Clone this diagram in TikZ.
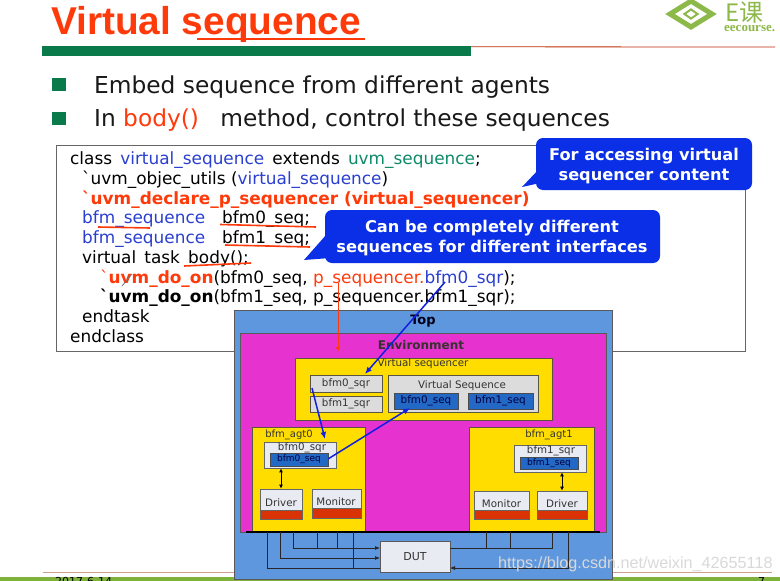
\documentclass[tikz,border=0pt]{standalone}
\usepackage{fontspec}
\usetikzlibrary{arrows.meta,shapes.geometric}
\setmainfont{DejaVu Sans}
\newfontfamily\codef{DejaVu Sans}
\newfontfamily\titlef{Liberation Sans}
\newfontfamily\cjkf{Noto Sans CJK SC}
\newfontfamily\serf{Liberation Serif}
\definecolor{ttl}{HTML}{FF3A0A}
\definecolor{bargreen}{HTML}{0B7A4B}
\definecolor{calloutb}{HTML}{0A2FE6}
\definecolor{kwblue}{HTML}{2A3FD0}
\definecolor{kwgreen}{HTML}{0F8A68}
\definecolor{topblue}{HTML}{5F97DF}
\definecolor{envmag}{HTML}{E633CF}
\definecolor{yel}{HTML}{FFDD00}
\definecolor{lgray}{HTML}{DCDCDC}
\definecolor{pale}{HTML}{E8ECF2}
\definecolor{seqblue}{HTML}{2368C4}
\definecolor{stripred}{HTML}{D93205}
\definecolor{logog}{HTML}{8DB84A}
\definecolor{arrblue}{HTML}{1020E0}
\definecolor{footg}{HTML}{7FB23A}
\definecolor{footr}{HTML}{CFA090}
\newcommand{\bq}{\symbol{96}}
\newcommand{\us}{\_}
\newcommand{\bx}[7]{\node[#6,inner sep=0pt,minimum width={#4-#2},minimum height={#5-#3}] (#1) at ({(#2+#4)/2},{(#3+#5)/2}) {#7};}
\tikzset{
  x=1pt,y=-1pt,
  outl/.style={draw=black!75!yellow,line width=0.7pt},
  lbl/.style={font=\codef\fontsize{10.3}{11}\selectfont,text=black!80},
  code/.style={anchor=base west,inner sep=0pt,font=\codef\fontsize{16.9}{18}\selectfont,text=black},
  bul/.style={anchor=base west,inner sep=0pt,font=\fontsize{23.3}{26}\selectfont,text=black!90},
  callout/.style={fill=calloutb,draw=none},
  ctext/.style={align=center,text=white,font=\codef\bfseries\fontsize{16.2}{20}\selectfont,inner sep=0pt},
  rul/.style={draw=ttl,line width=1.6pt},
  wire/.style={draw=black!85,line width=0.7pt},
  wirea/.style={wire,-{Latex[length=5pt,width=4pt]}},
  bluearr/.style={draw=arrblue,line width=1.5pt,-{Latex[length=7pt,width=6pt]}},
}
\begin{document}
\begin{tikzpicture}
\useasboundingbox (0,0) rectangle (780,581);
\clip (0,0) rectangle (780,581);
\fill[white] (0,0) rectangle (780,581);
% footer
\bx{footband}{-1}{577}{781}{582}{fill=footg}{}
\node[anchor=base west,inner sep=0pt,font=\codef\fontsize{11}{12}\selectfont,text=black] (date) at (55,585) {2017-6-14};
\node[anchor=base west,inner sep=0pt,font=\codef\fontsize{11}{12}\selectfont,text=black] (pageno) at (758,585) {7};
\coordinate (fl1) at (43,572); \coordinate (fl2) at (772,572);
\draw[footr,line width=1pt] (fl1) -- (fl2);
% header
\node[anchor=base west,inner sep=0pt,text=ttl,font=\titlef\bfseries\fontsize{38.8}{42}\selectfont] (title) at (51,34) {Virtual sequence};
\coordinate (ula) at (197,39); \coordinate (ulb) at (365,39);
\draw[rul] (ula) -- (ulb);
\bx{bar}{42}{46}{471}{55.5}{fill=bargreen}{}
\coordinate (rl) at (775,47);
\draw[draw=ttl!75!black,line width=0.8pt] (bar.north east) ++(0,1) -- (rl);
% logo
\node[diamond,draw=logog,line width=5pt,minimum width=44pt,minimum height=28pt,inner sep=0pt] at (691,14) (logo) {};
\node[diamond,draw=logog,line width=2pt,minimum width=14pt,minimum height=10pt,inner sep=0pt] at (691,14) (logoi) {};
\node[anchor=base west,inner sep=0pt,text=logog,font=\cjkf\fontsize{24}{26}\selectfont] (lt) at (725,21) {E课};
\node[anchor=base west,inner sep=0pt,text=logog,font=\serf\bfseries\fontsize{13}{13}\selectfont] (lu) at (724,31) {eecourse.};
% bullets
\bx{b1}{52}{78}{66}{91}{fill=bargreen}{}
\bx{b2}{52}{112}{66}{125}{fill=bargreen}{}
\node[bul] (bt1) at (94,93) {Embed sequence from different agents};
\node[bul] (bt2) at (94,126) {In \textcolor{ttl}{body()}\hspace{14pt} method, control these sequences};
% code
\bx{codebox}{56}{145}{745}{351}{draw=black!60,line width=1pt,fill=white}{}
\node[code] (c1) at (70,164) {class\, \textcolor{kwblue}{virtual\us sequence}\, extends\, \textcolor{kwgreen}{uvm\us sequence};};
\node[code] (c2) at (82,184) {\bq uvm\us objec\us utils (\textcolor{kwblue}{virtual\us sequence})};
\node[code,text=ttl,font=\codef\bfseries\fontsize{16.9}{18}\selectfont] (c3) at (82,204) {\bq uvm\us declare\us p\us sequencer (virtual\us sequencer)};
\node[code] (c4) at (82,223) {\textcolor{kwblue}{bfm\us sequence}\quad bfm0\us seq;};
\node[code] (c5) at (82,243) {\textcolor{kwblue}{bfm\us sequence}\quad bfm1\us seq;};
\node[code] (c6) at (82,263) {virtual\, task\, body();};
\node[code] (c7) at (100,283) {\textcolor{ttl}{\bq\textbf{uvm\us do\us on}}(bfm0\us seq, \textcolor{ttl}{p\us sequencer.}\textcolor{kwblue}{bfm0\us sqr});};
\node[code] (c8) at (100,302) {\textbf{\bq uvm\us do\us on}(bfm1\us seq, p\us sequencer.bfm1\us sqr);};
\node[code] (c9) at (82,322) {endtask};
\node[code] (c10) at (70,342) {endclass};
% underlines
\coordinate (u1a) at (98,227); \coordinate (u1b) at (150,228);
\coordinate (u2a) at (220,224.5); \coordinate (u2b) at (316,227);
\coordinate (u3a) at (225,245); \coordinate (u3b) at (310,247);
\coordinate (u4a) at (184,266); \coordinate (u4b) at (251,263);
\draw[rul] (u1a) -- (u1b);
\draw[rul] (u2a) -- (u2b);
\draw[rul] (u3a) -- (u3b);
\draw[rul] (u4a) -- (u4b);
\coordinate (pa) at (132,274); \coordinate (pb) at (122,286);
\draw[black!55,line width=0.8pt] (pa) -- (pb);
% callouts
\fill[callout] (540,168) -- (522,187) -- (540,183) -- cycle;
\fill[callout,rounded corners=7pt] (536,138) rectangle (752,190);
\node[ctext] (ca) at (644,166.5) {For accessing virtual\\sequencer content};
\fill[callout] (326,235) -- (304,260) -- (330,258) -- cycle;
\fill[callout,rounded corners=7pt] (325,210) rectangle (660,263);
\node[ctext] (cb) at (492,238.5) {Can be completely different\\sequences for different interfaces};
% diagram
\bx{top}{234.5}{310}{612}{579}{fill=topblue,draw=black!65,line width=0.8pt}{}
\bx{env}{240}{333}{606}{532}{fill=envmag,draw=black!65,line width=0.8pt}{}
\node[inner sep=0pt,font=\codef\bfseries\fontsize{13}{14}\selectfont,text=black!90!blue] (toplbl) at (423,321) {Top};
\node[inner sep=0pt,font=\codef\bfseries\fontsize{12}{14}\selectfont,text=black!90!magenta] (envlbl) at (421,345) {Environment};
\bx{vs}{295}{358}{552}{420}{fill=yel,outl}{}
\node[lbl,inner sep=0pt] (vslbl) at (423,364) {Virtual sequencer};
\bx{s0}{310}{375}{382}{392}{fill=lgray,outl}{\fontsize{10.3}{11}\selectfont\color{black!80}bfm0\us sqr}
\bx{s1}{310}{396}{382}{412}{fill=lgray,outl}{\fontsize{10.3}{11}\selectfont\color{black!80}bfm1\us sqr}
\bx{vseq}{388}{375}{538}{412}{fill=lgray,outl}{}
\node[lbl,inner sep=0pt] (vseql) at (462,385.5) {Virtual Sequence};
\bx{q0}{394}{393}{458}{409}{fill=seqblue,draw=black!70,line width=0.7pt}{\fontsize{10.4}{11}\selectfont\color{black!75!blue}bfm0\us seq}
\bx{q1}{468}{393}{533}{409}{fill=seqblue,draw=black!70,line width=0.7pt}{\fontsize{10.4}{11}\selectfont\color{black!75!blue}bfm1\us seq}
% agent 0
\bx{a0}{252}{427}{365}{532}{fill=yel,outl}{}
\node[lbl,inner sep=0pt,font=\codef\fontsize{10}{11}\selectfont] (a0l) at (289,435) {bfm\us agt0};
\bx{as0}{264}{442}{336}{468}{fill=pale,draw=black!60,line width=0.7pt}{}
\node[lbl,inner sep=0pt] (as0l) at (302,448) {bfm0\us sqr};
\bx{aq0}{270}{453}{328}{466}{fill=seqblue,draw=black!70,line width=0.7pt}{\fontsize{9}{10}\selectfont\color{black!75!blue}bfm0\us seq}
\bx{d0}{260}{489}{302}{519}{fill=pale,draw=black!60,line width=0.7pt}{}
\bx{d0r}{260}{510}{302}{519}{fill=stripred,draw=black!60,line width=0.5pt}{}
\node[lbl,inner sep=0pt] (d0l) at (281,503) {Driver};
\bx{m0}{312}{489}{361}{518}{fill=pale,draw=black!60,line width=0.7pt}{}
\bx{m0r}{312}{508.5}{361}{518}{fill=stripred,draw=black!60,line width=0.5pt}{}
\node[lbl,inner sep=0pt] (m0l) at (336,502) {Monitor};
% agent 1
\bx{a1}{469}{427}{594}{532}{fill=yel,outl}{}
\node[lbl,inner sep=0pt,font=\codef\fontsize{10}{11}\selectfont] (a1l) at (549,435) {bfm\us agt1};
\bx{as1}{514}{445}{586}{472}{fill=pale,draw=black!60,line width=0.7pt}{}
\node[lbl,inner sep=0pt] (as1l) at (551,451) {bfm1\us sqr};
\bx{aq1}{520}{457}{578}{469}{fill=seqblue,draw=black!70,line width=0.7pt}{\fontsize{9}{10}\selectfont\color{black!75!blue}bfm1\us seq}
\bx{m1}{474}{491}{529}{519}{fill=pale,draw=black!60,line width=0.7pt}{}
\bx{m1r}{474}{510}{529}{519}{fill=stripred,draw=black!60,line width=0.5pt}{}
\node[lbl,inner sep=0pt] (m1l) at (501.5,504) {Monitor};
\bx{d1}{537}{491}{587}{519}{fill=pale,draw=black!60,line width=0.7pt}{}
\bx{d1r}{537}{510}{587}{519}{fill=stripred,draw=black!60,line width=0.5pt}{}
\node[lbl,inner sep=0pt] (d1l) at (562,504) {Driver};
% double arrows
\draw[black,line width=0.8pt,{Latex[length=4pt,width=4pt]}-{Latex[length=4pt,width=4pt]}] (as0.south -| d0.north) -- (d0.north);
\draw[black,line width=0.8pt,{Latex[length=4pt,width=4pt]}-{Latex[length=4pt,width=4pt]}] (as1.south -| d1.north) -- (d1.north);
% DUT and wiring
\bx{dut}{380}{541}{450}{572}{fill=pale,draw=black!65,line width=0.8pt}{\fontsize{11}{12}\selectfont\color{black!80}DUT}
\coordinate (bl) at (246,532); \coordinate (br) at (600,532);
\draw[black,line width=1.6pt] (bl) -- (br);
\coordinate (w1) at (267,532); \coordinate (w2) at (280,532); \coordinate (w3) at (293,532);
\coordinate (w4) at (317,532); \coordinate (w5) at (337,532); \coordinate (w6) at (353,532);
\coordinate (w7) at (486,532); \coordinate (w8) at (510,532); \coordinate (w9) at (552,532); \coordinate (w10) at (568,532);
\coordinate (p1) at (380,568); \coordinate (p2) at (380,558); \coordinate (p3) at (380,548);
\coordinate (p4) at (450,548); \coordinate (p5) at (450,568);
\draw[wire] (w1) |- (p1);
\draw[wirea] (w2) |- (p2);
\draw[wirea] (w3) |- (p3);
\draw[wire] (w4) -- (w4 |- p3);
\draw[wire] (w5) -- (w5 |- p3);
\draw[wire] (w6) -- (w6 |- p1);
\draw[wire] (w7) -- (w7 |- p4);
\draw[wire] (w8) -- (w8 |- p4);
\draw[wire] (p4) -| (w9);
\draw[wirea] (w10) |- (p5);
% red and blue arrows
\coordinate (ra) at (338,283); \coordinate (rb) at (338,352);
\draw[draw=ttl,line width=1pt,-{Latex[length=5pt,width=5pt]}] (ra) -- (rb);
\coordinate (b1a) at (445,282); \coordinate (b1b) at (365,374);
\draw[bluearr] (b1a) -- (b1b);
\coordinate (b2a) at (312,388); \coordinate (b2b) at (325,439);
\draw[bluearr] (b2a) -- (b2b);
\coordinate (b3a) at (328,459); \coordinate (b3b) at (410,408);
\draw[bluearr] (b3a) -- (b3b);
% watermark
\node[anchor=base west,inner sep=0pt,text=white!85!black,font=\titlef\fontsize{16.2}{18}\selectfont] (wm) at (498,568) {https://blog.csdn.net/weixin\us 42655118};
\end{tikzpicture}
\end{document}
